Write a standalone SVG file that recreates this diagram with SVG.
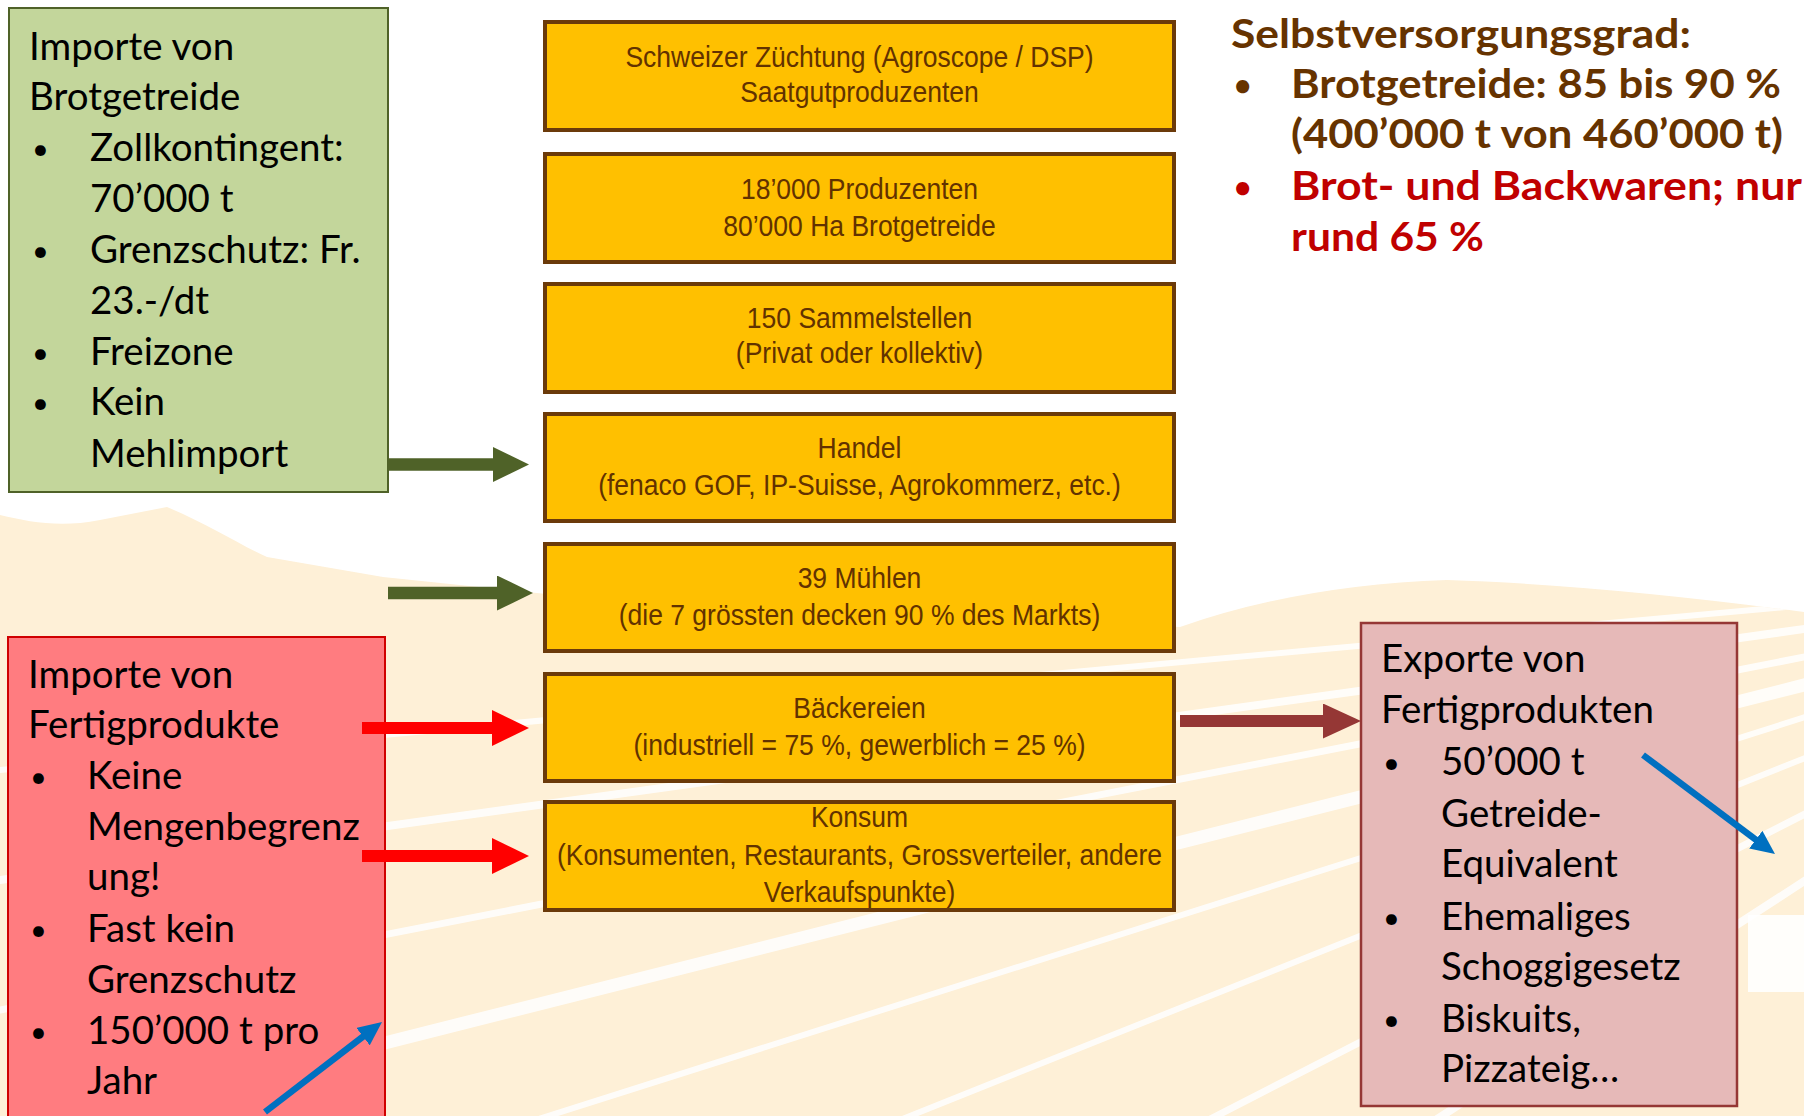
<svg xmlns="http://www.w3.org/2000/svg" width="1804" height="1116" viewBox="0 0 1804 1116">
<style>
.gs{font-family:Lato,"Open Sans","Noto Sans",sans-serif;font-size:38.5px;fill:#000}
.bl{font-family:Lato,"Open Sans","Noto Sans",sans-serif;font-size:29px;fill:#000}
.bd{font-family:Lato,"Open Sans","Noto Sans",sans-serif;font-size:40px;font-weight:700}
.bb{font-family:Lato,"Open Sans","Noto Sans",sans-serif;font-size:30px;font-weight:700}
.ob{fill:#FFC000;stroke:#6B3A0A;stroke-width:4}
.ot{font-family:"Liberation Sans",Arial,sans-serif;font-size:29px;fill:#623200;text-anchor:middle}
</style>
<defs>
<clipPath id="beigeClip"><path d="M0,515 C30,522 60,528 100,520 L167,507 C210,525 240,545 267,557 L383,577 L700,610 L1180,627 Q1300,585 1447,580 Q1600,585 1804,612 L1804,1116 L0,1116 Z"/></clipPath>
<marker id="mGreen" viewBox="0 0 36 35" markerWidth="36" markerHeight="35" refX="2" refY="17.5" markerUnits="userSpaceOnUse" orient="auto"><path d="M0,0 L36,17.5 L0,35 Z" fill="#4F6228"/></marker>
<marker id="mRed" viewBox="0 0 37 36" markerWidth="37" markerHeight="36" refX="2" refY="18" markerUnits="userSpaceOnUse" orient="auto"><path d="M0,0 L37,18 L0,36 Z" fill="#FF0000"/></marker>
<marker id="mBrown" viewBox="0 0 38 35" markerWidth="38" markerHeight="35" refX="2" refY="17.5" markerUnits="userSpaceOnUse" orient="auto"><path d="M0,0 L38,17.5 L0,35 Z" fill="#953735"/></marker>
<marker id="mBlue" viewBox="0 0 24 22" markerWidth="24" markerHeight="22" refX="2" refY="11" markerUnits="userSpaceOnUse" orient="auto"><path d="M0,0 L24,11 L0,22 Z" fill="#0070C0"/></marker>
</defs>

<g id="background">
<rect x="0" y="0" width="1804" height="1116" fill="#FFFFFF"/>
<path d="M0,515 C30,522 60,528 100,520 L167,507 C210,525 240,545 267,557 L383,577 L700,610 L1180,627 Q1300,585 1447,580 Q1600,585 1804,612 L1804,1116 L0,1116 Z" fill="#FEF0D7"/>
<g clip-path="url(#beigeClip)" stroke="#FFFFFF" stroke-linecap="round" fill="none" opacity="0.85">
<line x1="0" y1="770" x2="2300" y2="560" stroke-width="6"/>
<line x1="0" y1="880" x2="2300" y2="560" stroke-width="8"/>
<line x1="0" y1="1010" x2="2300" y2="560" stroke-width="7"/>
<line x1="0" y1="1140" x2="2300" y2="560" stroke-width="13"/>
<line x1="0" y1="1290" x2="2300" y2="560" stroke-width="6"/>
<line x1="0" y1="1480" x2="2300" y2="560" stroke-width="6"/>
<line x1="0" y1="1740" x2="2300" y2="560" stroke-width="7"/>
<line x1="0" y1="2050" x2="2300" y2="560" stroke-width="8"/>
</g>
<rect x="1748" y="915" width="56" height="77" fill="#FFFFFF" opacity="0.9"/>
</g>

<g id="import-brotgetreide">
<rect x="9" y="8" width="379" height="484" fill="#C3D69B" stroke="#4F6228" stroke-width="2"/>
<text class="gs" x="29" y="60">Importe von</text>
<text class="gs" x="29" y="110">Brotgetreide</text>
<text class="bl" x="32" y="159">•</text>
<text class="gs" x="90" y="161">Zollkontingent:</text>
<text class="gs" x="90" y="212">70’000 t</text>
<text class="bl" x="32" y="261">•</text>
<text class="gs" x="90" y="263">Grenzschutz: Fr.</text>
<text class="gs" x="90" y="314">23.-/dt</text>
<text class="bl" x="32" y="363">•</text>
<text class="gs" x="90" y="365">Freizone</text>
<text class="bl" x="32" y="413">•</text>
<text class="gs" x="90" y="415">Kein</text>
<text class="gs" x="90" y="467">Mehlimport</text>
</g>

<g id="import-fertigprodukte">
<rect x="8" y="637" width="377" height="490" fill="#FF7C80" stroke="#D00000" stroke-width="2"/>
<text class="gs" x="28" y="688">Importe von</text>
<text class="gs" x="28" y="738">Fertigprodukte</text>
<text class="bl" x="30" y="787">•</text>
<text class="gs" x="87" y="789">Keine</text>
<text class="gs" x="87" y="840">Mengenbegrenz</text>
<text class="gs" x="87" y="890">ung!</text>
<text class="bl" x="30" y="940">•</text>
<text class="gs" x="87" y="942">Fast kein</text>
<text class="gs" x="87" y="993">Grenzschutz</text>
<text class="bl" x="30" y="1042">•</text>
<text class="gs" x="87" y="1044">150’000 t pro</text>
<text class="gs" x="87" y="1094">Jahr</text>
</g>

<g id="export-fertigprodukte">
<rect x="1361" y="623" width="376" height="483" fill="#E6B9B8" stroke="#953735" stroke-width="2.5"/>
<text class="gs" x="1381" y="672">Exporte von</text>
<text class="gs" x="1381" y="723">Fertigprodukten</text>
<text class="bl" x="1383" y="773">•</text>
<text class="gs" x="1441" y="775">50’000 t</text>
<text class="gs" x="1441" y="827">Getreide-</text>
<text class="gs" x="1441" y="877">Equivalent</text>
<text class="bl" x="1383" y="928">•</text>
<text class="gs" x="1441" y="930">Ehemaliges</text>
<text class="gs" x="1441" y="980">Schoggigesetz</text>
<text class="bl" x="1383" y="1030">•</text>
<text class="gs" x="1441" y="1032">Biskuits,</text>
<text class="gs" x="1441" y="1082">Pizzateig…</text>
</g>

<g id="selbstversorgungsgrad">
<text class="bd" x="1231" y="48" fill="#663300" textLength="460" lengthAdjust="spacingAndGlyphs">Selbstversorgungsgrad:</text>
<text class="bb" x="1234" y="96" fill="#663300">•</text>
<text class="bd" x="1291" y="98" fill="#663300" textLength="490" lengthAdjust="spacingAndGlyphs">Brotgetreide: 85 bis 90 %</text>
<text class="bd" x="1291" y="148" fill="#663300" textLength="492" lengthAdjust="spacingAndGlyphs">(400’000 t von 460’000 t)</text>
<text class="bb" x="1234" y="198" fill="#C00000">•</text>
<text class="bd" x="1291" y="200" fill="#C00000" textLength="511" lengthAdjust="spacingAndGlyphs">Brot- und Backwaren; nur</text>
<text class="bd" x="1291" y="251" fill="#C00000" textLength="193" lengthAdjust="spacingAndGlyphs">rund 65 %</text>
</g>

<g id="zuechtung">
<rect class="ob" x="545" y="22" width="629" height="108"/>
<g transform="matrix(0.914 0 0 1 73.92 0)">
<text class="ot" x="859.5" y="67">Schweizer Züchtung (Agroscope / DSP)</text>
<text class="ot" x="859.5" y="102">Saatgutproduzenten</text>
</g>
</g>
<g id="produzenten">
<rect class="ob" x="545" y="154" width="629" height="108"/>
<g transform="matrix(0.914 0 0 1 73.92 0)">
<text class="ot" x="859.5" y="199">18’000 Produzenten</text>
<text class="ot" x="859.5" y="236">80’000 Ha Brotgetreide</text>
</g>
</g>
<g id="sammelstellen">
<rect class="ob" x="545" y="284" width="629" height="108"/>
<g transform="matrix(0.914 0 0 1 73.92 0)">
<text class="ot" x="859.5" y="328">150 Sammelstellen</text>
<text class="ot" x="859.5" y="363">(Privat oder kollektiv)</text>
</g>
</g>
<g id="handel">
<rect class="ob" x="545" y="414" width="629" height="107"/>
<g transform="matrix(0.914 0 0 1 73.92 0)">
<text class="ot" x="859.5" y="458">Handel</text>
<text class="ot" x="859.5" y="495">(fenaco GOF, IP-Suisse, Agrokommerz, etc.)</text>
</g>
</g>
<g id="muehlen">
<rect class="ob" x="545" y="544" width="629" height="107"/>
<g transform="matrix(0.914 0 0 1 73.92 0)">
<text class="ot" x="859.5" y="588">39 Mühlen</text>
<text class="ot" x="859.5" y="625">(die 7 grössten decken 90 % des Markts)</text>
</g>
</g>
<g id="baeckereien">
<rect class="ob" x="545" y="674" width="629" height="107"/>
<g transform="matrix(0.914 0 0 1 73.92 0)">
<text class="ot" x="859.5" y="718">Bäckereien</text>
<text class="ot" x="859.5" y="755">(industriell = 75 %, gewerblich = 25 %)</text>
</g>
</g>
<g id="konsum">
<rect class="ob" x="545" y="802" width="629" height="108"/>
<g transform="matrix(0.914 0 0 1 73.92 0)">
<text class="ot" x="859.5" y="827">Konsum</text>
<text class="ot" x="859.5" y="865">(Konsumenten, Restaurants, Grossverteiler, andere</text>
<text class="ot" x="859.5" y="902">Verkaufspunkte)</text>
</g>
</g>

<g id="connectors">
<line x1="388" y1="464.5" x2="495" y2="464.5" stroke="#4F6228" stroke-width="12.5" marker-end="url(#mGreen)"/>
<line x1="388" y1="593" x2="499" y2="593" stroke="#4F6228" stroke-width="12.5" marker-end="url(#mGreen)"/>
<line x1="362" y1="728" x2="494" y2="728" stroke="#FF0000" stroke-width="12" marker-end="url(#mRed)"/>
<line x1="362" y1="856" x2="494" y2="856" stroke="#FF0000" stroke-width="12" marker-end="url(#mRed)"/>
<line x1="1180" y1="721" x2="1325" y2="721" stroke="#953735" stroke-width="12" marker-end="url(#mBrown)"/>
<line x1="265" y1="1112" x2="364.6" y2="1035.4" stroke="#0070C0" stroke-width="6.5" marker-end="url(#mBlue)"/>
<line x1="1643" y1="755" x2="1757.4" y2="840.8" stroke="#0070C0" stroke-width="6.5" marker-end="url(#mBlue)"/>
</g>
</svg>
